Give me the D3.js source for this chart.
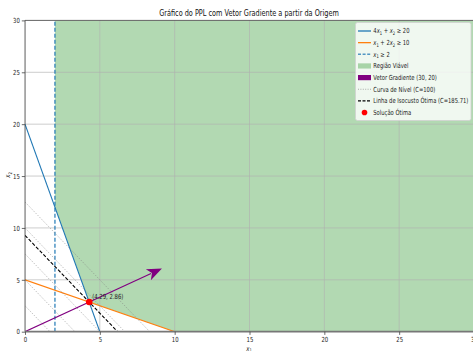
<!DOCTYPE html>
<html>
<head>
<meta charset="utf-8">
<script src="https://cdn.jsdelivr.net/npm/d3@7"></script>
<style>
  body { margin: 0; background: #fff; }
  svg { display: block; font-family: "DejaVu Sans", sans-serif; }
</style>
</head>
<body>
<div id="app"></div>
<script>
// data
const xTicks = [0, 5, 10, 15, 20, 25, 30];
const yTicks = [0, 5, 10, 15, 20, 25, 30];
const xDomain = [0, 30];
const yDomain = [0, 30];
const cons1 = [4, 1, 20]; // 4x1 + x2 >= 20
const cons2 = [1, 2, 10]; // x1 + 2x2 >= 10
const x1Min = 2;
const gradient = [30, 20];
const arrowScale = 0.305;
const levelValues = [50, 100, 150, 200, 250];
const optimalCost = 185.71;
const optimum = [4.29, 2.86];
const legendLabels = [
  "4x1 + x2 ≥ 20",
  "x1 + 2x2 ≥ 10",
  "x1 ≥ 2",
  "Região Viável",
  "Vetor Gradiente (30, 20)",
  "Curva de Nível (C=100)",
  "Linha de Isocusto Ótima (C=185.71)",
  "Solução Ótima"
];

const W = 473, H = 351;
const squishK = 0.76;

const svg = d3.select("#app").append("svg").attr("width", W).attr("height", H);

const x = d3.scaleLinear().domain(xDomain).range([25, 474]);
const y = d3.scaleLinear().domain(yDomain).range([331.7, 20.4]);

svg.append("clipPath").attr("id", "clip")
  .append("rect")
  .attr("x", x(0)).attr("y", y(30))
  .attr("width", x(30) - x(0)).attr("height", y(0) - y(30));

const plot = svg.append("g").attr("clip-path", "url(#clip)");

// line helper: a*x1 + b*x2 = c
const lineY = (c, xv) => (c[2] - c[0] * xv) / c[1];
const intersect = (p, q) => {
  const det = p[0] * q[1] - q[0] * p[1];
  return [(p[2] * q[1] - q[2] * p[1]) / det, (p[0] * q[2] - q[0] * p[2]) / det];
};

// feasible region
const corner = intersect(cons1, cons2);
const region = [
  [x1Min, yDomain[1]],
  [x1Min, lineY(cons1, x1Min)],
  corner,
  [cons2[2] / cons2[0], 0],
  [xDomain[1], 0],
  [xDomain[1], yDomain[1]]
];
plot.append("path")
  .attr("d", d3.line().x(d => x(d[0])).y(d => y(d[1]))(region) + "Z")
  .attr("fill", "green").attr("fill-opacity", 0.3);

// grid
plot.append("g").selectAll("line").data(xTicks).join("line")
  .attr("x1", d => x(d)).attr("x2", d => x(d))
  .attr("y1", y(0)).attr("y2", y(30))
  .attr("stroke", "#b0b0b0").attr("stroke-width", 0.8).attr("stroke-opacity", 0.8);
plot.append("g").selectAll("line").data(yTicks).join("line")
  .attr("y1", d => y(d)).attr("y2", d => y(d))
  .attr("x1", x(0)).attr("x2", x(30))
  .attr("stroke", "#b0b0b0").attr("stroke-width", 0.8).attr("stroke-opacity", 0.8);

const drawLine = (c, stroke, width, dash, opacity) => {
  plot.append("line")
    .attr("x1", x(xDomain[0])).attr("y1", y(lineY(c, xDomain[0])))
    .attr("x2", x(xDomain[1])).attr("y2", y(lineY(c, xDomain[1])))
    .attr("stroke", stroke).attr("stroke-width", width)
    .attr("stroke-dasharray", dash).attr("stroke-opacity", opacity);
};

drawLine(cons1, "#1f77b4", 1.1, null, 1);
drawLine(cons2, "#ff7f0e", 1.1, null, 1);

plot.append("line")
  .attr("x1", x(x1Min)).attr("x2", x(x1Min))
  .attr("y1", y(0)).attr("y2", y(30))
  .attr("stroke", "#1f77b4").attr("stroke-width", 1.6)
  .attr("stroke-opacity", 0.75).attr("stroke-dasharray", "4,2");

// level curves
levelValues.forEach(C => drawLine([gradient[0], gradient[1], C], "#808080", 0.8, "1,1.6", 0.8));
drawLine([gradient[0], gradient[1], optimalCost], "#000", 1.1, "3.5,1.8", 1);

// gradient vector
const tip = [gradient[0] * arrowScale, gradient[1] * arrowScale];
const px0 = x(0), py0 = y(0), px1 = x(tip[0]), py1 = y(tip[1]);
const len = Math.hypot(px1 - px0, py1 - py0);
const ux = (px1 - px0) / len, uy = (py1 - py0) / len;
const headL = 15, headW = 6;
const bx = px1 - ux * headL, by = py1 - uy * headL;
plot.append("line")
  .attr("x1", px0).attr("y1", py0).attr("x2", bx + ux * 3).attr("y2", by + uy * 3)
  .attr("stroke", "purple").attr("stroke-width", 1.1);
plot.append("path")
  .attr("d", `M${px1},${py1}L${bx - uy * headW},${by + ux * headW}L${bx + ux * 4},${by + uy * 4}L${bx + uy * headW},${by - ux * headW}Z`)
  .attr("fill", "purple");

// optimum
plot.append("circle")
  .attr("cx", x(optimum[0])).attr("cy", y(optimum[1])).attr("r", 3.3)
  .attr("fill", "red");

const texts = [];
texts.push(svg.append("text")
  .attr("x", x(optimum[0]) + 3).attr("y", y(optimum[1]) - 3.5)
  .attr("font-size", 7).attr("fill", "#222")
  .text(`(${optimum[0].toFixed(2)}, ${optimum[1].toFixed(2)})`));

// spines
const sp = svg.append("g").attr("stroke", "#444").attr("stroke-width", 0.8);
sp.append("line").attr("x1", x(0)).attr("x2", x(0)).attr("y1", y(0)).attr("y2", y(30));
sp.append("line").attr("x1", x(0)).attr("x2", x(30)).attr("y1", y(30)).attr("y2", y(30));
svg.append("line").attr("x1", x(0)).attr("x2", x(30)).attr("y1", y(0)).attr("y2", y(0))
  .attr("stroke", "#777").attr("stroke-width", 1.8);

// axes
const xAxis = svg.append("g").attr("transform", `translate(0,${y(0)})`)
  .call(d3.axisBottom(x).tickValues(xTicks).tickSize(3.2).tickPadding(2).tickFormat(d3.format("d")));
const yAxis = svg.append("g").attr("transform", `translate(${x(0)},0)`)
  .call(d3.axisLeft(y).tickValues(yTicks).tickSize(3.2).tickPadding(2).tickFormat(d3.format("d")));
[xAxis, yAxis].forEach(a => {
  a.select(".domain").remove();
  a.selectAll(".tick line").attr("stroke", "#444").attr("stroke-width", 0.8);
  a.selectAll("text").attr("font-size", 7).attr("fill", "#222").attr("font-family", "DejaVu Sans");
  texts.push(a.selectAll("text"));
});

// math label helper: italic x with subscript digit
function mathText(sel, str, size) {
  const parts = str.split(/(x\d)/).filter(p => p.length);
  let shift = 0;
  parts.forEach(p => {
    if (/^x\d$/.test(p)) {
      sel.append("tspan").attr("font-style", "italic").attr("dy", -shift).text("x");
      sel.append("tspan").attr("font-size", size * 0.7).attr("dy", size * 0.25).text(p[1]);
      shift = size * 0.25;
    } else {
      sel.append("tspan").attr("dy", -shift).text(p);
      shift = 0;
    }
  });
}

// title and axis labels
texts.push(svg.append("text").attr("x", 249).attr("y", 15.5)
  .attr("text-anchor", "middle").attr("font-size", 8.6).attr("fill", "#111")
  .text("Gráfico do PPL com Vetor Gradiente a partir da Origem"));
const xl = svg.append("text").attr("x", 249).attr("y", 350.5)
  .attr("text-anchor", "middle").attr("font-size", 7).attr("fill", "#222");
mathText(xl, "x1", 7);
texts.push(xl);
const yl = svg.append("text").attr("transform", "translate(10,175) rotate(-90)")
  .attr("text-anchor", "middle").attr("font-size", 7).attr("fill", "#222");
mathText(yl, "x2", 7);
texts.push(yl);

// legend
const lg = svg.append("g");
lg.append("rect").attr("x", 355.5).attr("y", 22.5).attr("width", 115.5).attr("height", 98)
  .attr("rx", 2).attr("fill", "#fff").attr("fill-opacity", 0.8)
  .attr("stroke", "#d0d0d0").attr("stroke-width", 0.8);
const ly0 = 31, lstep = 11.65, hx0 = 358, hx1 = 371, tx = 373.3;
const handleStyles = [
  ["#1f77b4", 1.3, null, 1],
  ["#ff7f0e", 1.3, null, 1],
  ["#1f77b4", 1.4, "3,1.6", 0.75],
  null, null,
  ["#808080", 0.8, "1,1.4", 0.8],
  ["#000", 1.2, "3,1.5", 1]
];
const legendTexts = [];
legendLabels.forEach((lab, i) => {
  const cy = ly0 + i * lstep;
  const g = lg.append("g");
  const st = handleStyles[i];
  if (st) {
    g.append("line").attr("x1", hx0).attr("x2", hx1).attr("y1", cy).attr("y2", cy)
      .attr("stroke", st[0]).attr("stroke-width", st[1]).attr("stroke-dasharray", st[2])
      .attr("stroke-opacity", st[3]);
  } else if (i === 3 || i === 4) {
    g.append("rect").attr("x", hx0).attr("y", cy - 2.6).attr("width", hx1 - hx0).attr("height", 5.2)
      .attr("fill", i === 3 ? "green" : "purple").attr("fill-opacity", i === 3 ? 0.3 : 1);
  } else {
    g.append("circle").attr("cx", (hx0 + hx1) / 2).attr("cy", cy).attr("r", 2.8).attr("fill", "red");
  }
  const t = g.append("text").attr("x", tx).attr("y", cy + 2.4)
    .attr("font-size", 7).attr("fill", "#222");
  if (i < 3) mathText(t, lab, 7); else t.text(lab);
  legendTexts.push(t.node());
});

// narrow all text horizontally
const squish = (node, k) => {
  const L = node.getComputedTextLength();
  node.setAttribute("textLength", L * k);
  node.setAttribute("lengthAdjust", "spacingAndGlyphs");
};
texts.forEach(s => s.each(function () { squish(this, squishK); }));
const longest = d3.max(legendTexts, n => n.getComputedTextLength());
const legendK = Math.min(squishK, 95 / longest);
legendTexts.forEach(n => squish(n, legendK));
</script>
</body>
</html>
